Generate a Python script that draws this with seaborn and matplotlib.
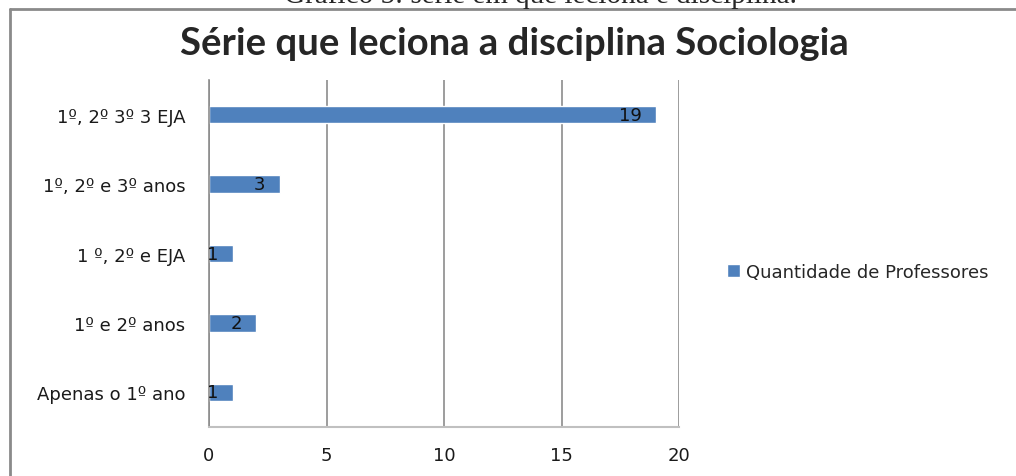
import matplotlib
matplotlib.use("Agg")
import matplotlib.pyplot as plt
import seaborn as sns

# Data
categorias = ["1º, 2º 3º 3 EJA", "1º, 2º e 3º anos", "1 º, 2º e EJA", "1º e 2º anos", "Apenas o 1º ano"]
professores = [19, 3, 1, 2, 1]
x_ticks = [0, 5, 10, 15, 20]
serie_nome = "Quantidade de Professores"

W, H = 1016, 477
sns.set_style("white")
plt.rcParams["font.family"] = ["DejaVu Sans"]

fig = plt.figure(figsize=(W / 100, H / 100), dpi=100)
ax = fig.add_axes([209 / W, 1 - 428 / H, (679 - 209) / W, (428 - 81) / H])

bar_color = "#4F81BD"
sns.barplot(x=professores, y=categorias, orient="h", color=bar_color,
            width=0.25, saturation=1, label=serie_nome, ax=ax)

ax.set_xlim(0, 20)
ax.set_xticks(x_ticks)
ax.set_xlabel("")
ax.set_ylabel("")
ax.grid(axis="x", color="#8c8c8c", linewidth=1.2)
ax.set_axisbelow(True)
for s in ["top", "right"]:
    ax.spines[s].set_visible(False)
ax.spines["left"].set_color("#8c8c8c")
ax.spines["left"].set_linewidth(1.2)
ax.spines["bottom"].set_color("#c0c0c0")
ax.spines["bottom"].set_linewidth(1.5)
ax.tick_params(axis="both", length=0, labelsize=13, colors="#1a1a1a")
ax.tick_params(axis="x", pad=14)
ax.tick_params(axis="y", pad=17)

# data labels inside the bar end
for i, v in enumerate(professores):
    ax.annotate(str(v), xy=(v, i), xytext=(-14, 0), textcoords="offset pixels",
                ha="right", va="center", fontsize=13, color="#111111")

leg = ax.legend(loc="center left", bbox_to_anchor=(711 / W, 1 - 273 / H),
                bbox_transform=fig.transFigure, frameon=False, fontsize=13,
                handlelength=0.7, handleheight=0.7, handletextpad=0.35)

fig.suptitle("Série que leciona a disciplina Sociologia", x=514 / W, y=1 - 44 / H,
             va="center", fontsize=27.5, fontweight="bold", family="Lato")

# caption cut off at the top of the screenshot
fig.text(540 / W, 1 - 3 / H, "Gráfico 5: série em que leciona e disciplina.",
         ha="center", va="baseline", fontsize=21, family="Liberation Serif")

# outer chart frame (left and top edges)
frame_c = "#8a8a8a"
fig.add_artist(plt.Line2D([9.5 / W, 9.5 / W], [0, 1 - 9.5 / H], color=frame_c, lw=2))
fig.add_artist(plt.Line2D([9.5 / W, 1], [1 - 9.5 / H, 1 - 9.5 / H], color=frame_c, lw=2))

fig.savefig("out.png", dpi=100)
